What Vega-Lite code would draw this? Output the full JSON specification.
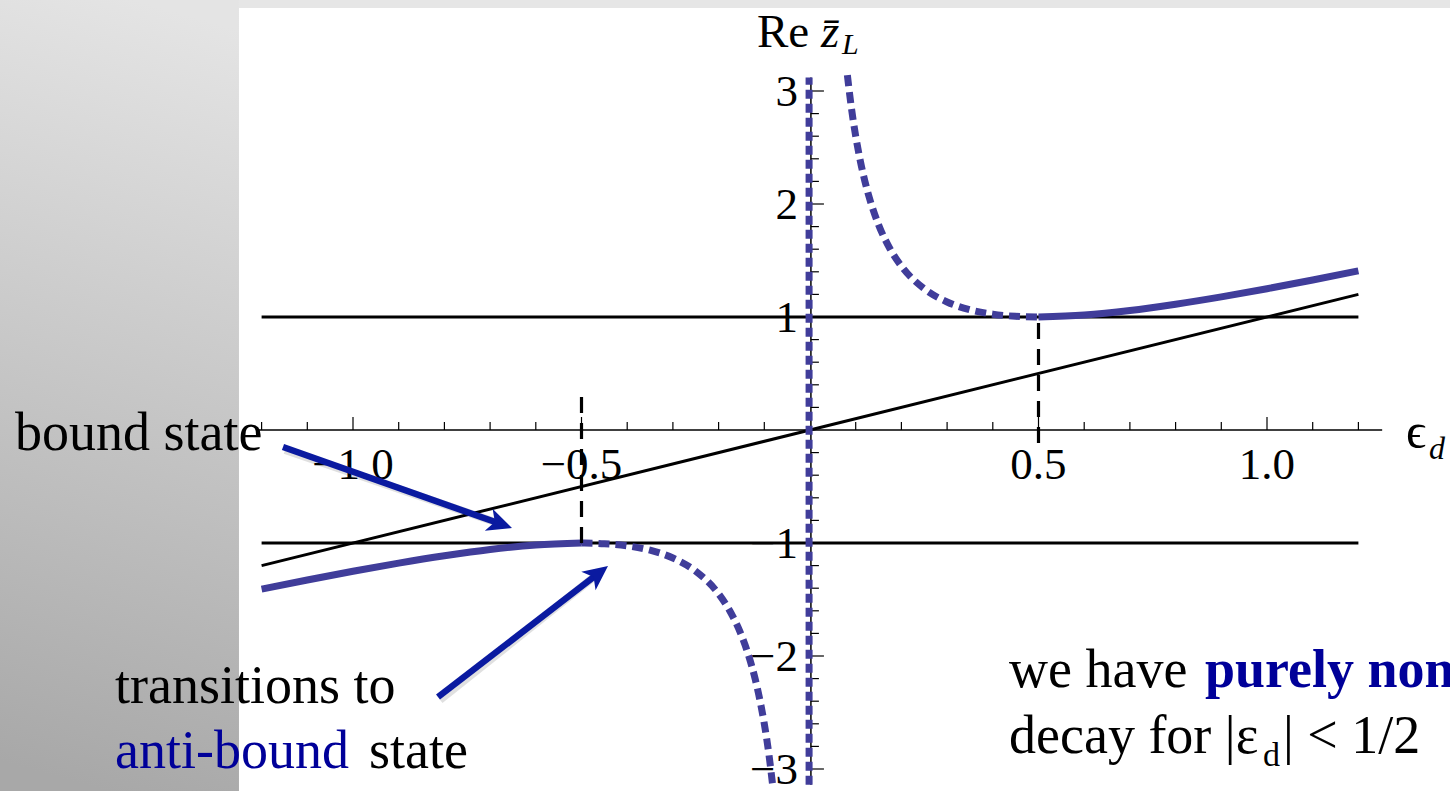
{
  "$schema": "https://vega.github.io/schema/vega-lite/v6.json",
  "width": 1450,
  "height": 791,
  "autosize": "none",
  "padding": 0,
  "background": "white",
  "config": {"view": {"stroke": null}, "text": {"font": "Liberation Serif"}},
  "datasets": {
    "reSolid": [
      {"branch": "upper", "eps": 0.5, "z": 1.0},
      {"branch": "upper", "eps": 0.6, "z": 1.017},
      {"branch": "upper", "eps": 0.7, "z": 1.057},
      {"branch": "upper", "eps": 0.8, "z": 1.113},
      {"branch": "upper", "eps": 0.9, "z": 1.178},
      {"branch": "upper", "eps": 1.0, "z": 1.25},
      {"branch": "upper", "eps": 1.1, "z": 1.327},
      {"branch": "upper", "eps": 1.2, "z": 1.408},
      {"branch": "lower", "eps": -1.2, "z": -1.408},
      {"branch": "lower", "eps": -1.1, "z": -1.327},
      {"branch": "lower", "eps": -1.0, "z": -1.25},
      {"branch": "lower", "eps": -0.9, "z": -1.178},
      {"branch": "lower", "eps": -0.8, "z": -1.113},
      {"branch": "lower", "eps": -0.7, "z": -1.057},
      {"branch": "lower", "eps": -0.6, "z": -1.017},
      {"branch": "lower", "eps": -0.5, "z": -1.0}
    ],
    "reDashed": [
      {"branch": "upper", "eps": 0.0818, "z": 3.14},
      {"branch": "upper", "eps": 0.09, "z": 2.868},
      {"branch": "upper", "eps": 0.1, "z": 2.6},
      {"branch": "upper", "eps": 0.11, "z": 2.383},
      {"branch": "upper", "eps": 0.12, "z": 2.203},
      {"branch": "upper", "eps": 0.135, "z": 1.987},
      {"branch": "upper", "eps": 0.15, "z": 1.817},
      {"branch": "upper", "eps": 0.175, "z": 1.604},
      {"branch": "upper", "eps": 0.2, "z": 1.45},
      {"branch": "upper", "eps": 0.25, "z": 1.25},
      {"branch": "upper", "eps": 0.3, "z": 1.133},
      {"branch": "upper", "eps": 0.35, "z": 1.064},
      {"branch": "upper", "eps": 0.4, "z": 1.025},
      {"branch": "upper", "eps": 0.45, "z": 1.006},
      {"branch": "upper", "eps": 0.5, "z": 1.0},
      {"branch": "lower", "eps": -0.5, "z": -1.0},
      {"branch": "lower", "eps": -0.45, "z": -1.006},
      {"branch": "lower", "eps": -0.4, "z": -1.025},
      {"branch": "lower", "eps": -0.35, "z": -1.064},
      {"branch": "lower", "eps": -0.3, "z": -1.133},
      {"branch": "lower", "eps": -0.25, "z": -1.25},
      {"branch": "lower", "eps": -0.2, "z": -1.45},
      {"branch": "lower", "eps": -0.175, "z": -1.604},
      {"branch": "lower", "eps": -0.15, "z": -1.817},
      {"branch": "lower", "eps": -0.135, "z": -1.987},
      {"branch": "lower", "eps": -0.12, "z": -2.203},
      {"branch": "lower", "eps": -0.11, "z": -2.383},
      {"branch": "lower", "eps": -0.1, "z": -2.6},
      {"branch": "lower", "eps": -0.09, "z": -2.868},
      {"branch": "lower", "eps": -0.0818, "z": -3.14}
    ],
    "pole": [{"eps": -0.002, "z": -3.14, "z2": 3.12}],
    "diagonal": [{"eps": -1.2, "z": -1.2}, {"eps": 1.2, "z": 1.2}],
    "bands": [{"eps": -1.2, "eps2": 1.2, "z": 1}, {"eps": -1.2, "eps2": 1.2, "z": -1}],
    "thresholds": [{"eps": -0.5, "z": -1, "z2": 0.35}, {"eps": 0.5, "z": -0.115, "z2": 1}],
    "xMajor": [{"eps": -1.0, "label": "−1.0"}, {"eps": -0.5, "label": "−0.5"}, {"eps": 0.5, "label": "0.5"}, {"eps": 1.0, "label": "1.0"}],
    "xMinor": [
      {"eps": -1.2}, {"eps": -1.1}, {"eps": -0.9}, {"eps": -0.8}, {"eps": -0.7}, {"eps": -0.6},
      {"eps": -0.4}, {"eps": -0.3}, {"eps": -0.2}, {"eps": -0.1},
      {"eps": 0.1}, {"eps": 0.2}, {"eps": 0.3}, {"eps": 0.4},
      {"eps": 0.6}, {"eps": 0.7}, {"eps": 0.8}, {"eps": 0.9}, {"eps": 1.1}, {"eps": 1.2}
    ],
    "yMajor": [
      {"z": 3, "label": "3"}, {"z": 2, "label": "2"}, {"z": 1, "label": "1"},
      {"z": -1, "label": "−1"}, {"z": -2, "label": "−2"}, {"z": -3, "label": "−3"}
    ],
    "yMinor": [
      {"z": 2.8}, {"z": 2.6}, {"z": 2.4}, {"z": 2.2},
      {"z": 1.8}, {"z": 1.6}, {"z": 1.4}, {"z": 1.2},
      {"z": 0.8}, {"z": 0.6}, {"z": 0.4}, {"z": 0.2},
      {"z": -0.2}, {"z": -0.4}, {"z": -0.6}, {"z": -0.8},
      {"z": -1.2}, {"z": -1.4}, {"z": -1.6}, {"z": -1.8},
      {"z": -2.2}, {"z": -2.4}, {"z": -2.6}, {"z": -2.8}
    ],
    "plainNotes": [
      {"eps": -1.7396, "z": -0.177, "text": "bound state"},
      {"eps": -1.5208, "z": -2.4159, "text": "transitions to"},
      {"eps": -0.965, "z": -2.9912, "text": "state"},
      {"eps": 0.4354, "z": -2.2743, "text": "we have"},
      {"eps": 0.4354, "z": -2.8584, "text": "decay for |ε"},
      {"eps": 1.035, "z": -2.8584, "text": "| < 1/2"}
    ],
    "blueNotes": [{"eps": -1.5208, "z": -2.9912, "text": "anti-bound"}],
    "boldNotes": [{"eps": 0.8643, "z": -2.2743, "text": "purely non-exponential"}],
    "subNotes": [{"eps": 0.9912, "z": -2.9735, "text": "d"}],
    "arrows": [
      {"id": "bound", "eps": -1.1532, "z": -0.1504, "eps2": -0.681, "z2": -0.8257, "tipEps": -0.6521, "tipZ": -0.8673},
      {"id": "anti", "eps": -0.814, "z": -2.3628, "eps2": -0.4663, "z2": -1.2788, "tipEps": -0.442, "tipZ": -1.2035}
    ]
  },
  "layer": [
    {
      "data": {"values": [{}]},
      "mark": {"type": "rect", "color": {"gradient": "linear", "x1": 0.543, "y1": 0, "x2": 0.457, "y2": 1, "stops": [{"offset": 0, "color": "#e4e4e4"}, {"offset": 1, "color": "#a8a8a8"}]}},
      "encoding": {
        "x": {"datum": -1.78, "type": "quantitative", "scale": {"domain": [-1.77243, 1.40044], "nice": false, "zero": false}, "axis": null},
        "x2": {"datum": -1.2495},
        "y": {"datum": -3.2, "type": "quantitative", "scale": {"domain": [-3.19469, 3.80531], "nice": false, "zero": false}, "axis": null},
        "y2": {"datum": 3.82}
      }
    },
    {
      "data": {"values": [{}]},
      "mark": {"type": "rect", "color": "#e6e6e6"},
      "encoding": {
        "x": {"datum": -1.2495, "type": "quantitative", "scale": {"domain": [-1.77243, 1.40044], "nice": false, "zero": false}, "axis": null},
        "x2": {"datum": 1.41},
        "y": {"datum": 3.7345, "type": "quantitative", "scale": {"domain": [-3.19469, 3.80531], "nice": false, "zero": false}, "axis": null},
        "y2": {"datum": 3.82}
      }
    },
    {
      "data": {"values": [{}]},
      "mark": {"type": "rule", "color": "black", "strokeWidth": 1.5},
      "encoding": {
        "x": {"datum": -1.21, "type": "quantitative", "scale": {"domain": [-1.77243, 1.40044], "nice": false, "zero": false}, "axis": null},
        "x2": {"datum": 1.252},
        "y": {"datum": 0, "type": "quantitative", "scale": {"domain": [-3.19469, 3.80531], "nice": false, "zero": false}, "axis": null}
      }
    },
    {
      "data": {"values": [{}]},
      "mark": {"type": "rule", "color": "black", "strokeWidth": 1.5},
      "encoding": {
        "x": {"datum": 0.002, "type": "quantitative", "scale": {"domain": [-1.77243, 1.40044], "nice": false, "zero": false}, "axis": null},
        "y": {"datum": -3.14, "type": "quantitative", "scale": {"domain": [-3.19469, 3.80531], "nice": false, "zero": false}, "axis": null},
        "y2": {"datum": 3.12}
      }
    },
    {
      "data": {"name": "xMajor"},
      "mark": {"type": "rule", "color": "black", "strokeWidth": 1.2},
      "encoding": {
        "x": {"field": "eps", "type": "quantitative", "scale": {"domain": [-1.77243, 1.40044], "nice": false, "zero": false}, "axis": null},
        "y": {"datum": 0, "type": "quantitative", "scale": {"domain": [-3.19469, 3.80531], "nice": false, "zero": false}, "axis": null},
        "y2": {"datum": 0.115}
      }
    },
    {
      "data": {"name": "xMinor"},
      "mark": {"type": "rule", "color": "black", "strokeWidth": 1.2},
      "encoding": {
        "x": {"field": "eps", "type": "quantitative", "scale": {"domain": [-1.77243, 1.40044], "nice": false, "zero": false}, "axis": null},
        "y": {"datum": 0, "type": "quantitative", "scale": {"domain": [-3.19469, 3.80531], "nice": false, "zero": false}, "axis": null},
        "y2": {"datum": 0.071}
      }
    },
    {
      "data": {"name": "yMajor"},
      "mark": {"type": "rule", "color": "black", "strokeWidth": 1.2},
      "encoding": {
        "x": {"datum": 0.002, "type": "quantitative", "scale": {"domain": [-1.77243, 1.40044], "nice": false, "zero": false}, "axis": null},
        "x2": {"datum": 0.0305},
        "y": {"field": "z", "type": "quantitative", "scale": {"domain": [-3.19469, 3.80531], "nice": false, "zero": false}, "axis": null}
      }
    },
    {
      "data": {"name": "yMinor"},
      "mark": {"type": "rule", "color": "black", "strokeWidth": 1.2},
      "encoding": {
        "x": {"datum": 0.002, "type": "quantitative", "scale": {"domain": [-1.77243, 1.40044], "nice": false, "zero": false}, "axis": null},
        "x2": {"datum": 0.0195},
        "y": {"field": "z", "type": "quantitative", "scale": {"domain": [-3.19469, 3.80531], "nice": false, "zero": false}, "axis": null}
      }
    },
    {
      "data": {"name": "xMajor"},
      "mark": {"type": "text", "fontSize": 45, "align": "center", "baseline": "alphabetic", "dy": 49, "color": "black"},
      "encoding": {
        "x": {"field": "eps", "type": "quantitative", "scale": {"domain": [-1.77243, 1.40044], "nice": false, "zero": false}, "axis": null},
        "y": {"datum": 0, "type": "quantitative", "scale": {"domain": [-3.19469, 3.80531], "nice": false, "zero": false}, "axis": null},
        "text": {"field": "label"}
      }
    },
    {
      "data": {"name": "yMajor"},
      "mark": {"type": "text", "fontSize": 45, "align": "right", "baseline": "alphabetic", "dx": -12, "dy": 15, "color": "black"},
      "encoding": {
        "x": {"datum": 0, "type": "quantitative", "scale": {"domain": [-1.77243, 1.40044], "nice": false, "zero": false}, "axis": null},
        "y": {"field": "z", "type": "quantitative", "scale": {"domain": [-3.19469, 3.80531], "nice": false, "zero": false}, "axis": null},
        "text": {"field": "label"}
      }
    },
    {
      "data": {"name": "bands"},
      "mark": {"type": "rule", "color": "black", "strokeWidth": 3.2},
      "encoding": {
        "x": {"field": "eps", "type": "quantitative", "scale": {"domain": [-1.77243, 1.40044], "nice": false, "zero": false}, "axis": null},
        "x2": {"field": "eps2"},
        "y": {"field": "z", "type": "quantitative", "scale": {"domain": [-3.19469, 3.80531], "nice": false, "zero": false}, "axis": null}
      }
    },
    {
      "data": {"name": "diagonal"},
      "mark": {"type": "line", "color": "black", "strokeWidth": 3},
      "encoding": {
        "x": {"field": "eps", "type": "quantitative", "scale": {"domain": [-1.77243, 1.40044], "nice": false, "zero": false}, "axis": null},
        "y": {"field": "z", "type": "quantitative", "scale": {"domain": [-3.19469, 3.80531], "nice": false, "zero": false}, "axis": null}
      }
    },
    {
      "data": {"name": "reSolid"},
      "mark": {"type": "line", "color": "#403d9a", "strokeWidth": 7, "interpolate": "monotone"},
      "encoding": {
        "x": {"field": "eps", "type": "quantitative", "scale": {"domain": [-1.77243, 1.40044], "nice": false, "zero": false}, "axis": null},
        "y": {"field": "z", "type": "quantitative", "scale": {"domain": [-3.19469, 3.80531], "nice": false, "zero": false}, "axis": null},
        "detail": {"field": "branch"}
      }
    },
    {
      "data": {"name": "reDashed"},
      "mark": {"type": "line", "color": "#403d9a", "strokeWidth": 7, "strokeDash": [11, 6], "interpolate": "monotone"},
      "encoding": {
        "x": {"field": "eps", "type": "quantitative", "scale": {"domain": [-1.77243, 1.40044], "nice": false, "zero": false}, "axis": null},
        "y": {"field": "z", "type": "quantitative", "scale": {"domain": [-3.19469, 3.80531], "nice": false, "zero": false}, "axis": null},
        "detail": {"field": "branch"}
      }
    },
    {
      "data": {"name": "pole"},
      "mark": {"type": "rule", "color": "#403d9a", "strokeWidth": 7, "strokeDash": [9, 5]},
      "encoding": {
        "x": {"field": "eps", "type": "quantitative", "scale": {"domain": [-1.77243, 1.40044], "nice": false, "zero": false}, "axis": null},
        "y": {"field": "z", "type": "quantitative", "scale": {"domain": [-3.19469, 3.80531], "nice": false, "zero": false}, "axis": null},
        "y2": {"field": "z2"}
      }
    },
    {
      "data": {"name": "thresholds"},
      "mark": {"type": "rule", "color": "black", "strokeWidth": 3.2, "strokeDash": [16, 10]},
      "encoding": {
        "x": {"field": "eps", "type": "quantitative", "scale": {"domain": [-1.77243, 1.40044], "nice": false, "zero": false}, "axis": null},
        "y": {"field": "z", "type": "quantitative", "scale": {"domain": [-3.19469, 3.80531], "nice": false, "zero": false}, "axis": null},
        "y2": {"field": "z2"}
      }
    },
    {
      "data": {"values": [{}]},
      "mark": {"type": "text", "fontSize": 47, "align": "left", "baseline": "alphabetic", "color": "black"},
      "encoding": {
        "x": {"datum": -0.11597, "type": "quantitative", "scale": {"domain": [-1.77243, 1.40044], "nice": false, "zero": false}, "axis": null},
        "y": {"datum": 3.38938, "type": "quantitative", "scale": {"domain": [-3.19469, 3.80531], "nice": false, "zero": false}, "axis": null},
        "text": {"value": "Re"}
      }
    },
    {
      "data": {"values": [{}]},
      "mark": {"type": "text", "fontSize": 47, "fontStyle": "italic", "align": "left", "baseline": "alphabetic", "color": "black"},
      "encoding": {
        "x": {"datum": 0.02407, "type": "quantitative", "scale": {"domain": [-1.77243, 1.40044], "nice": false, "zero": false}, "axis": null},
        "y": {"datum": 3.38938, "type": "quantitative", "scale": {"domain": [-3.19469, 3.80531], "nice": false, "zero": false}, "axis": null},
        "text": {"value": "z̄"}
      }
    },
    {
      "data": {"values": [{}]},
      "mark": {"type": "text", "fontSize": 30, "fontStyle": "italic", "align": "left", "baseline": "alphabetic", "color": "black"},
      "encoding": {
        "x": {"datum": 0.07002, "type": "quantitative", "scale": {"domain": [-1.77243, 1.40044], "nice": false, "zero": false}, "axis": null},
        "y": {"datum": 3.32743, "type": "quantitative", "scale": {"domain": [-3.19469, 3.80531], "nice": false, "zero": false}, "axis": null},
        "text": {"value": "L"}
      }
    },
    {
      "data": {"values": [{}]},
      "mark": {"type": "text", "fontSize": 50, "align": "left", "baseline": "alphabetic", "color": "black"},
      "encoding": {
        "x": {"datum": 1.30416, "type": "quantitative", "scale": {"domain": [-1.77243, 1.40044], "nice": false, "zero": false}, "axis": null},
        "y": {"datum": -0.15929, "type": "quantitative", "scale": {"domain": [-3.19469, 3.80531], "nice": false, "zero": false}, "axis": null},
        "text": {"value": "ϵ"}
      }
    },
    {
      "data": {"values": [{}]},
      "mark": {"type": "text", "fontSize": 32, "fontStyle": "italic", "align": "left", "baseline": "alphabetic", "color": "black"},
      "encoding": {
        "x": {"datum": 1.3545, "type": "quantitative", "scale": {"domain": [-1.77243, 1.40044], "nice": false, "zero": false}, "axis": null},
        "y": {"datum": -0.25664, "type": "quantitative", "scale": {"domain": [-3.19469, 3.80531], "nice": false, "zero": false}, "axis": null},
        "text": {"value": "d"}
      }
    },
    {
      "data": {"name": "plainNotes"},
      "mark": {"type": "text", "fontSize": 54, "align": "left", "baseline": "alphabetic", "color": "black"},
      "encoding": {
        "x": {"field": "eps", "type": "quantitative", "scale": {"domain": [-1.77243, 1.40044], "nice": false, "zero": false}, "axis": null},
        "y": {"field": "z", "type": "quantitative", "scale": {"domain": [-3.19469, 3.80531], "nice": false, "zero": false}, "axis": null},
        "text": {"field": "text"}
      }
    },
    {
      "data": {"name": "blueNotes"},
      "mark": {"type": "text", "fontSize": 54, "align": "left", "baseline": "alphabetic", "color": "#000099"},
      "encoding": {
        "x": {"field": "eps", "type": "quantitative", "scale": {"domain": [-1.77243, 1.40044], "nice": false, "zero": false}, "axis": null},
        "y": {"field": "z", "type": "quantitative", "scale": {"domain": [-3.19469, 3.80531], "nice": false, "zero": false}, "axis": null},
        "text": {"field": "text"}
      }
    },
    {
      "data": {"name": "boldNotes"},
      "mark": {"type": "text", "fontSize": 54, "fontWeight": "bold", "align": "left", "baseline": "alphabetic", "color": "#000099"},
      "encoding": {
        "x": {"field": "eps", "type": "quantitative", "scale": {"domain": [-1.77243, 1.40044], "nice": false, "zero": false}, "axis": null},
        "y": {"field": "z", "type": "quantitative", "scale": {"domain": [-3.19469, 3.80531], "nice": false, "zero": false}, "axis": null},
        "text": {"field": "text"}
      }
    },
    {
      "data": {"name": "subNotes"},
      "mark": {"type": "text", "fontSize": 34, "align": "left", "baseline": "alphabetic", "color": "black"},
      "encoding": {
        "x": {"field": "eps", "type": "quantitative", "scale": {"domain": [-1.77243, 1.40044], "nice": false, "zero": false}, "axis": null},
        "y": {"field": "z", "type": "quantitative", "scale": {"domain": [-3.19469, 3.80531], "nice": false, "zero": false}, "axis": null},
        "text": {"field": "text"}
      }
    },
    {
      "data": {"name": "arrows"},
      "mark": {"type": "rule", "color": "black", "opacity": 0.12, "strokeWidth": 8, "xOffset": 2, "yOffset": 3},
      "encoding": {
        "x": {"field": "eps", "type": "quantitative", "scale": {"domain": [-1.77243, 1.40044], "nice": false, "zero": false}, "axis": null},
        "y": {"field": "z", "type": "quantitative", "scale": {"domain": [-3.19469, 3.80531], "nice": false, "zero": false}, "axis": null},
        "x2": {"field": "eps2"},
        "y2": {"field": "z2"}
      }
    },
    {
      "data": {"name": "arrows"},
      "mark": {"type": "rule", "color": "#0a1aa0", "strokeWidth": 6.5},
      "encoding": {
        "x": {"field": "eps", "type": "quantitative", "scale": {"domain": [-1.77243, 1.40044], "nice": false, "zero": false}, "axis": null},
        "y": {"field": "z", "type": "quantitative", "scale": {"domain": [-3.19469, 3.80531], "nice": false, "zero": false}, "axis": null},
        "x2": {"field": "eps2"},
        "y2": {"field": "z2"}
      }
    },
    {
      "data": {"name": "arrows"},
      "transform": [{"filter": "datum.id === 'bound'"}],
      "mark": {"type": "point", "shape": "M0,0 L0.9,1.9 L0,1.4 L-0.9,1.9 Z", "size": 676, "angle": 109.5, "filled": true, "opacity": 1, "color": "#0a1aa0"},
      "encoding": {
        "x": {"field": "tipEps", "type": "quantitative", "scale": {"domain": [-1.77243, 1.40044], "nice": false, "zero": false}, "axis": null},
        "y": {"field": "tipZ", "type": "quantitative", "scale": {"domain": [-3.19469, 3.80531], "nice": false, "zero": false}, "axis": null}
      }
    },
    {
      "data": {"name": "arrows"},
      "transform": [{"filter": "datum.id === 'anti'"}],
      "mark": {"type": "point", "shape": "M0,0 L0.9,1.9 L0,1.4 L-0.9,1.9 Z", "size": 676, "angle": 52.4, "filled": true, "opacity": 1, "color": "#0a1aa0"},
      "encoding": {
        "x": {"field": "tipEps", "type": "quantitative", "scale": {"domain": [-1.77243, 1.40044], "nice": false, "zero": false}, "axis": null},
        "y": {"field": "tipZ", "type": "quantitative", "scale": {"domain": [-3.19469, 3.80531], "nice": false, "zero": false}, "axis": null}
      }
    }
  ]
}
